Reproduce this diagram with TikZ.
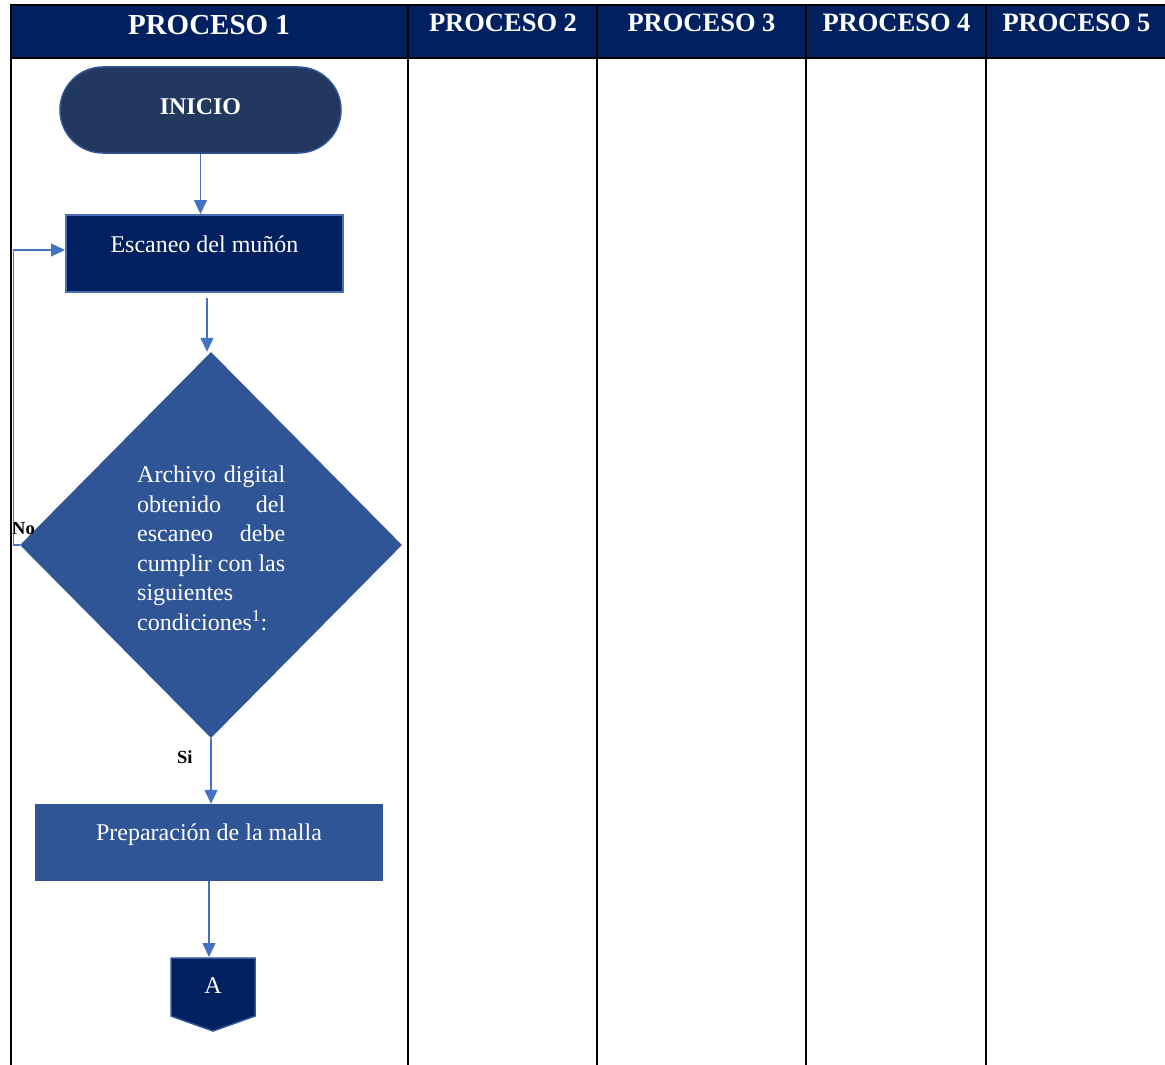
\documentclass[tikz,border=0pt]{standalone}
\usepackage{fontspec}
\setmainfont{Liberation Serif}
\usetikzlibrary{arrows.meta,shapes.geometric,shapes.misc,calc}
\definecolor{navy}{HTML}{002060}
\definecolor{iniciofill}{HTML}{22385F}
\definecolor{midblue}{HTML}{2F5597}
\definecolor{arrowblue}{HTML}{4472C4}
\definecolor{escborder}{HTML}{4A70B8}
\newcommand{\jline}[1]{\leavevmode\hbox to 148pt{#1}}
\begin{document}
\begin{tikzpicture}[x=1pt,y=-1pt,
  arr/.style={draw=arrowblue, line width=1.3pt, -{Triangle[length=14pt,width=13pt]}},
  gridline/.style={draw=black, line width=2pt},
  hdr/.style={text=white, font=\bfseries\fontsize{26.5}{30}\selectfont, anchor=base, inner sep=0},
  lbl/.style={text=white, font=\fontsize{24}{29.5}\selectfont, anchor=base, inner sep=0},
  blbl/.style={text=black, font=\bfseries\fontsize{18.5}{20}\selectfont, anchor=base west, inner sep=0},
  procbox/.style={inner sep=0, minimum height=77pt}
]
\useasboundingbox (0,0) rectangle (1165,1065);
% header
\fill[navy] (11,5) rectangle (1166,58);
\draw[gridline] (10,5) -- (1166,5);
\draw[gridline] (10,58) -- (1166,58);
\foreach \xx in {11,408,597,806,986} {\draw[gridline] (\xx,4) -- (\xx,1066);}
\node[hdr, font=\bfseries\fontsize{29}{32}\selectfont] (h1) at (209,35) {PROCESO 1};
\node[hdr] (h2) at (503,32) {PROCESO 2};
\node[hdr] (h3) at (701.5,32) {PROCESO 3};
\node[hdr] (h4) at (896.5,32) {PROCESO 4};
\node[hdr] (h5) at (1076.5,32) {PROCESO 5};
% inicio
\node[rounded rectangle, fill=iniciofill, draw=midblue, line width=1.5pt, minimum width=281pt, minimum height=86pt, inner sep=0] (inicio) at (200.5,110) {};
\node[lbl, font=\bfseries\fontsize{24}{29}\selectfont] (iniciot) at (200.5,114) {INICIO};
% escaneo
\node[procbox, draw=escborder, line width=2pt, fill=navy, minimum width=277pt] (esc) at (204.5,253.5) {};
\node[lbl] (esct) at (204.5,252) {Escaneo del muñón};
% decision
\node[diamond, fill=midblue, minimum width=382pt, minimum height=386pt, inner sep=0] (dec) at (211,545) {};
\node[text=white, font=\fontsize{24}{29.5}\selectfont, text width=148pt, align=left, inner sep=0, anchor=north west] (dect) at (137,466)
 {\jline{Archivo\hfil digital}\\
  \jline{obtenido\hfil del}\\
  \jline{escaneo\hfil debe}\\
  \jline{cumplir\hfil con\hfil las}\\
  siguientes\\
  condiciones\textsuperscript{1}:};
% preparacion
\node[procbox, fill=midblue, minimum width=348pt] (prep) at (209,842.5) {};
\node[lbl] (prept) at (209,840) {Preparación de la malla};
% off-page connector
\coordinate (conAtop) at (209,957);
\draw[fill=navy, draw=midblue, line width=1.5pt] (171,958) -- (255,958) -- (255,1016) -- (213,1031) -- (171,1016) -- cycle;
\node[lbl] (conA) at (213,993) {A};
% labels
\node[blbl] (no) at (12,534) {No};
\node[blbl] (si) at (177,763) {Si};
% connectors
\draw[arr] (inicio.south) -- (inicio.south |- esc.north);
\coordinate (dtop) at ($(dec.north)+(-4,0)$);
\draw[arr] ([xshift=2.5pt,yshift=-5pt]esc.south) -- (dtop);
\draw[arr] (dec.south) -- (dec.south |- prep.north);
\draw[arr] (prep.south) -- (conAtop);
\draw[arr] (dec.west) -- ++(-6.5,0) |- ([yshift=3.5pt]esc.west);
\end{tikzpicture}
\end{document}
